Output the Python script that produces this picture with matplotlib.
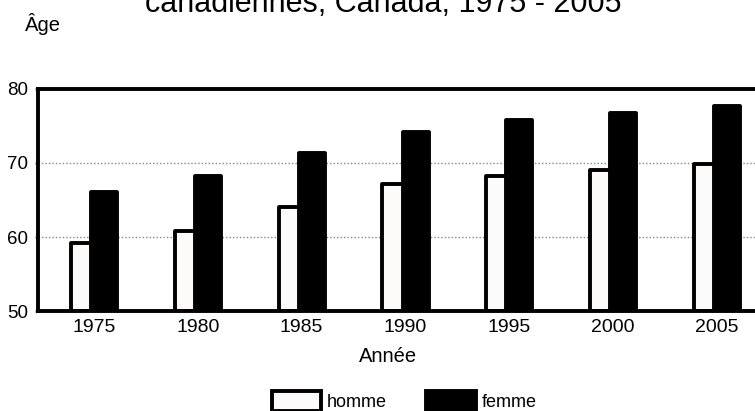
import numpy as np
import matplotlib.pyplot as plt
from matplotlib.patches import Patch

plt.rcParams['font.family'] = ['Liberation Sans', 'DejaVu Sans']

years = ['1975', '1980', '1985', '1990', '1995', '2000', '2005']
homme = [59.2, 60.8, 64.0, 67.1, 68.2, 69.0, 69.8]
femme = [66.1, 68.2, 71.3, 74.2, 75.8, 76.7, 77.7]

W, H = 755, 411
fig = plt.figure(figsize=(W / 100, H / 100), dpi=100)
# axes runs past the right edge of the picture, as in the original
ax = fig.add_axes([38 / W, 1 - 311 / H, 735 / W, 222 / H])

x = np.arange(len(years))
bw = 0.25
lw = 2.8
ax.bar(x - 0.097, [h - 50 for h in homme], bw, bottom=50, color='#fcfbf9',
       edgecolor='black', linewidth=lw, joinstyle='round', zorder=3)
ax.bar(x + 0.097, [f - 50 for f in femme], bw, bottom=50, color='black',
       edgecolor='black', linewidth=lw, joinstyle='round', zorder=4)

ax.set_xlim(-0.54, 6.54)
ax.set_ylim(50, 80)
ax.set_yticks([50, 60, 70, 80])
ax.set_xticks(x)
ax.set_xticklabels(years)
ax.tick_params(axis='y', length=2, width=2, color='#888888', pad=5, labelsize=13.5)
ax.tick_params(axis='x', length=0, pad=6, labelsize=14)

for v in [60, 70]:
    ax.axhline(v, color='#888888', linestyle=(0, (1, 1.5)), linewidth=1, zorder=1)

for s in ['top', 'left', 'bottom']:
    ax.spines[s].set_linewidth(lw)
    ax.spines[s].set_zorder(5)
ax.spines['right'].set_visible(False)

fig.text(383.5 / W, 1 - 12.5 / H, 'canadiennes, Canada, 1975 - 2005',
         fontsize=22, ha='center', va='baseline')
fig.text(25 / W, 1 - 31 / H, 'Âge', fontsize=14.5, ha='left', va='baseline')
fig.text(388 / W, 1 - 362 / H, 'Année', fontsize=14.5, ha='center', va='baseline')

handles = [Patch(facecolor='#fcfbf9', edgecolor='black', linewidth=lw),
           Patch(facecolor='black', edgecolor='black', linewidth=lw)]
fig.legend(handles, ['homme', 'femme'], loc='center',
           bbox_to_anchor=(404 / W, 1 - 401 / H), ncol=2, frameon=False,
           handlelength=2.76, handleheight=1.4, handletextpad=0.29,
           columnspacing=2.2, fontsize=13)

fig.savefig('out.png', dpi=100)
